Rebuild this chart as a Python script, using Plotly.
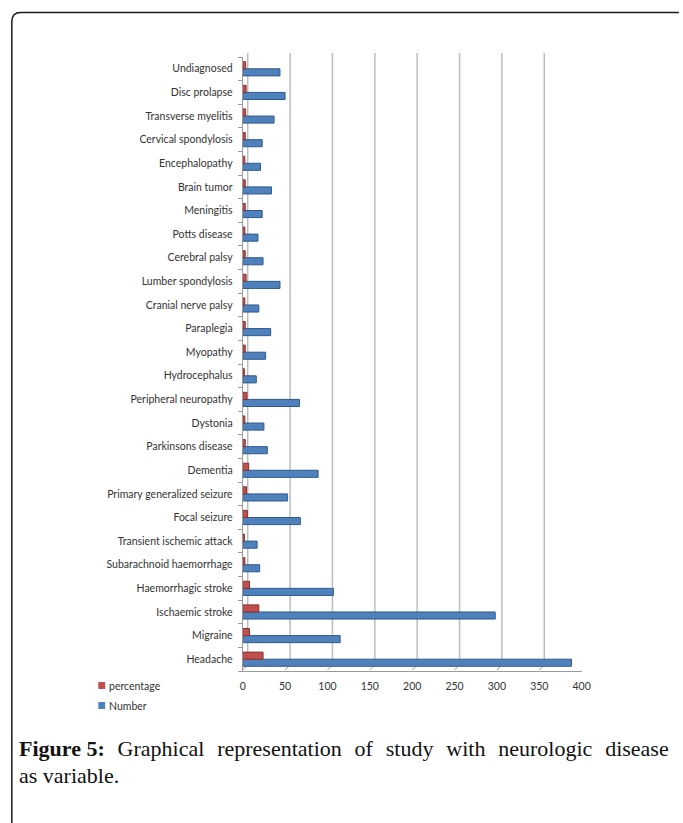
import plotly.graph_objects as go

W, H = 683, 823

categories = ["Headache", "Migraine", "Ischaemic stroke", "Haemorrhagic stroke",
              "Subarachnoid haemorrhage", "Transient ischemic attack", "Focal seizure",
              "Primary generalized seizure", "Dementia", "Parkinsons disease", "Dystonia",
              "Peripheral neuropathy", "Hydrocephalus", "Myopathy", "Paraplegia",
              "Cranial nerve palsy", "Lumber spondylosis", "Cerebral palsy", "Potts disease",
              "Meningitis", "Brain tumor", "Encephalopathy", "Cervical spondylosis",
              "Transverse myelitis", "Disc prolapse", "Undiagnosed"]
number = [388, 115, 298, 107, 20, 17, 68, 53, 89, 29, 25, 67, 16, 27, 33, 19, 44, 24,
          18, 23, 34, 21, 23, 37, 50, 44]
percentage = [24, 8, 19, 8, 2.5, 2, 5.5, 4.5, 7, 3, 2.5, 5, 2, 3, 3, 2.5, 4, 3, 2.5,
              3, 3, 2.5, 3, 3.5, 4, 3.5]
x_ticks = [0, 50, 100, 150, 200, 250, 300, 350, 400]

BLUE, BLUE_EDGE = "#4F81BD", "#2F5A8E"
RED, RED_EDGE = "#C0504D", "#8A2F2C"

def px(x):
    return x / W

def py(y):
    return 1 - y / H

fig = go.Figure()
fig.add_trace(go.Bar(y=categories, x=number, orientation="h", name="Number",
                     marker=dict(color=BLUE, line=dict(color=BLUE_EDGE, width=1))))
fig.add_trace(go.Bar(y=categories, x=percentage, orientation="h", name="percentage",
                     marker=dict(color=RED, line=dict(color=RED_EDGE, width=1))))

shapes = []
for v in x_ticks:
    shapes.append(dict(type="line", xref="x", xsizemode="pixel", xanchor=v, x0=5, x1=5,
                       yref="paper", y0=py(665), y1=py(53),
                       line=dict(color="#bcbcbc", width=1.5), layer="below"))
    shapes.append(dict(type="line", xref="x", xsizemode="pixel", xanchor=v, x0=0, x1=5,
                       yref="paper", ysizemode="pixel", yanchor=py(670), y0=0, y1=5,
                       line=dict(color="#9a9a9a", width=1), layer="below"))
r = 9
x0f, y0f = 9, 12.5
path = (f"M {px(x0f)},{py(H + 5)} L {px(x0f)},{py(y0f + r)} "
        f"Q {px(x0f)},{py(y0f)} {px(x0f + r)},{py(y0f)} L {px(W + 5)},{py(y0f)}")
shapes.append(dict(type="path", xref="paper", yref="paper", path=path,
                   line=dict(color="#1a1a1a", width=1.5)))
shapes.append(dict(type="rect", xref="paper", yref="paper", x0=px(97), x1=px(104),
                   y0=py(689), y1=py(682), fillcolor=RED, line=dict(width=0)))
shapes.append(dict(type="rect", xref="paper", yref="paper", x0=px(97), x1=px(104),
                   y0=py(709), y1=py(702), fillcolor=BLUE, line=dict(width=0)))

SP = " \u00a0\u200a"
cap_font = dict(family="Liberation Serif", size=22, color="#111")
line1 = ("<b>Figure 5:</b>" + SP + SP.join(
    ["Graphical", "representation", "of", "study", "with", "neurologic", "disease"]))
annotations = [
    dict(text="percentage", x=px(106), y=py(685.5), xref="paper", yref="paper",
         xanchor="left", yanchor="middle", showarrow=False,
         font=dict(family="Lato", size=10.5, color="#333")),
    dict(text="Number", x=px(106), y=py(705.5), xref="paper", yref="paper",
         xanchor="left", yanchor="middle", showarrow=False,
         font=dict(family="Lato", size=10.5, color="#333")),
    dict(text=line1, x=px(14), y=py(748), xref="paper", yref="paper", xanchor="left",
         yanchor="middle", showarrow=False, align="left", font=cap_font),
    dict(text="as variable.", x=px(14), y=py(775), xref="paper", yref="paper",
         xanchor="left", yanchor="middle", showarrow=False, align="left", font=cap_font),
]

fig.update_layout(
    width=W, height=H, autosize=False, margin=dict(l=0, r=0, t=0, b=0),
    paper_bgcolor="white", plot_bgcolor="rgba(0,0,0,0)",
    barmode="group", bargap=0.4, bargroupgap=0.0,
    showlegend=False, shapes=shapes, annotations=annotations,
    xaxis=dict(domain=[px(244), px(589)], range=[0, 400], tickvals=x_ticks,
               showgrid=False, zeroline=False, showline=True, linecolor="#9a9a9a",
               linewidth=1, ticks="", ticklabelstandoff=5,
               tickfont=dict(family="Lato", size=10.5, color="#333")),
    yaxis=dict(domain=[py(671), py(57)], type="category", categoryorder="array",
               categoryarray=categories, range=[-0.5, len(categories) - 0.5],
               showgrid=False, zeroline=False, showline=True, linecolor="#9a9a9a",
               linewidth=1, ticks="outside", tickson="boundaries", ticklen=4,
               tickcolor="#9a9a9a", ticklabelstandoff=7,
               tickfont=dict(family="Lato", size=10.5, color="#333")),
)

fig.write_html("out.html")
